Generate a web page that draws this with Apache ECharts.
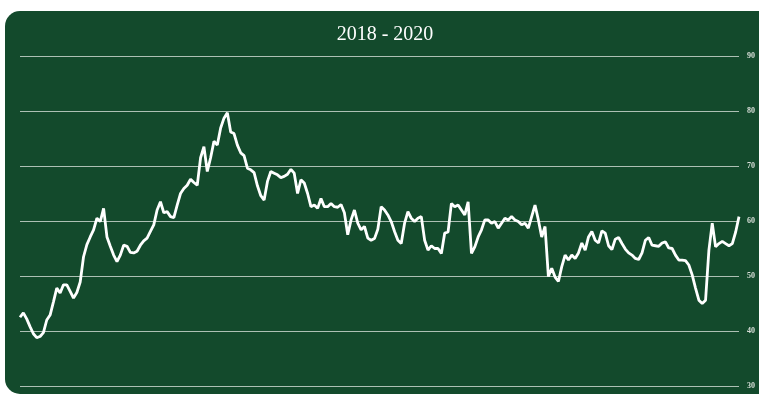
<!DOCTYPE html>
<html>
<head>
<meta charset="utf-8">
<script src="https://cdn.jsdelivr.net/npm/echarts@6/dist/echarts.min.js"></script>
<style>
  html, body { margin: 0; padding: 0; background: #ffffff; overflow: hidden; }
  #card {
    position: absolute; left: 5px; top: 11px; width: 780px; height: 383px;
    background: #134a2c; border-radius: 15px;
  }
  #chart { position: absolute; left: 0; top: 0; width: 759px; height: 394px; }
</style>
</head>
<body>
<div id="card"></div>
<div id="chart"></div>
<script>
// Index level, sampled evenly across 2018 - 2020
const values = [
  42.5, 43.3, 42.2, 40.8, 39.5, 38.8, 39.0, 39.7, 42.0, 42.9,
  45.3, 47.8, 46.9, 48.4, 48.4, 47.2, 46.0, 47.0, 48.9, 53.5,
  55.7, 57.1, 58.4, 60.5, 59.9, 62.3, 57.1, 55.4, 53.8, 52.6,
  53.8, 55.6, 55.4, 54.3, 54.2, 54.5, 55.6, 56.4, 56.9, 58.1,
  59.3, 62.0, 63.5, 61.5, 61.7, 60.8, 60.6, 62.9, 65.0, 65.9,
  66.5, 67.6, 67.0, 66.5, 71.5, 73.5, 69.0, 71.5, 74.5, 73.8,
  76.9, 78.7, 79.7, 76.2, 75.9, 73.8, 72.4, 71.9, 69.6, 69.3,
  68.8, 66.4, 64.6, 63.8, 67.2, 69.0, 68.7, 68.4, 67.9, 68.1,
  68.5, 69.4, 68.7, 65.0, 67.5, 66.9, 65.0, 62.6, 62.9, 62.3,
  64.1, 62.6, 62.6, 63.2, 62.6, 62.5, 63.0, 61.5, 57.5, 60.2,
  62.0, 59.6, 58.4, 59.0, 56.9, 56.5, 56.8, 58.5, 62.6, 62.0,
  61.1, 59.9, 58.1, 56.5, 55.9, 59.6, 61.7, 60.5, 59.9, 60.5,
  60.8, 56.5, 54.7, 55.5, 55.0, 55.0, 54.1, 57.8, 58.0, 63.2,
  62.6, 62.9, 62.0, 61.1, 63.5, 54.1, 55.3, 57.1, 58.4, 60.2,
  60.2, 59.6, 59.9, 58.7, 59.6, 60.5, 60.2, 60.8, 60.2, 59.9,
  59.3, 59.6, 58.7, 60.8, 62.9, 60.2, 57.1, 59.0, 49.9, 51.4,
  49.8, 49.0, 51.7, 53.8, 52.9, 53.8, 53.2, 54.2, 56.0, 54.7,
  57.1, 58.1, 56.5, 56.0, 58.2, 57.8, 55.5, 54.8, 56.7, 57.0,
  55.9, 54.9, 54.2, 53.8, 53.2, 53.0, 54.2, 56.5, 57.0, 55.6,
  55.5, 55.4, 56.0, 56.2, 55.1, 55.0, 53.8, 52.9, 52.9, 52.8,
  52.0, 50.2, 47.8, 45.6, 45.0, 45.6, 54.7, 59.6, 55.3, 55.9,
  56.3, 55.9, 55.5, 55.9, 58.0, 60.8
];
const categories = values.map((_, i) => 'P' + (i + 1));
const yTicks = { min: 30, max: 90, interval: 10 };
const titleText = '2018 - 2020';

const chart = echarts.init(document.getElementById('chart'), null, { renderer: 'canvas' });
chart.setOption({
  animation: false,
  backgroundColor: 'transparent',
  title: {
    text: titleText,
    left: 380,
    top: 20,
    textAlign: 'center',
    textStyle: {
      color: '#ffffff',
      fontFamily: '"Liberation Serif", "DejaVu Serif", serif',
      fontWeight: 'normal',
      fontSize: 20
    }
  },
  grid: { left: 20, right: 20, top: 56, bottom: 8, containLabel: false },
  xAxis: {
    type: 'category',
    data: categories,
    boundaryGap: false,
    show: false
  },
  yAxis: {
    type: 'value',
    position: 'right',
    min: yTicks.min,
    max: yTicks.max,
    interval: yTicks.interval,
    axisLine: { show: false },
    axisTick: { show: false },
    axisLabel: {
      color: '#d9dfd9',
      fontFamily: '"Liberation Serif", "DejaVu Serif", serif',
      fontWeight: 'bold',
      fontSize: 8,
      margin: 8
    },
    splitLine: { lineStyle: { color: 'rgba(225,232,225,0.75)', width: 1.2 } }
  },
  series: [{
    type: 'line',
    data: values,
    showSymbol: false,
    lineStyle: { color: '#ffffff', width: 2.8 },
    z: 3
  }]
});
</script>
</body>
</html>
